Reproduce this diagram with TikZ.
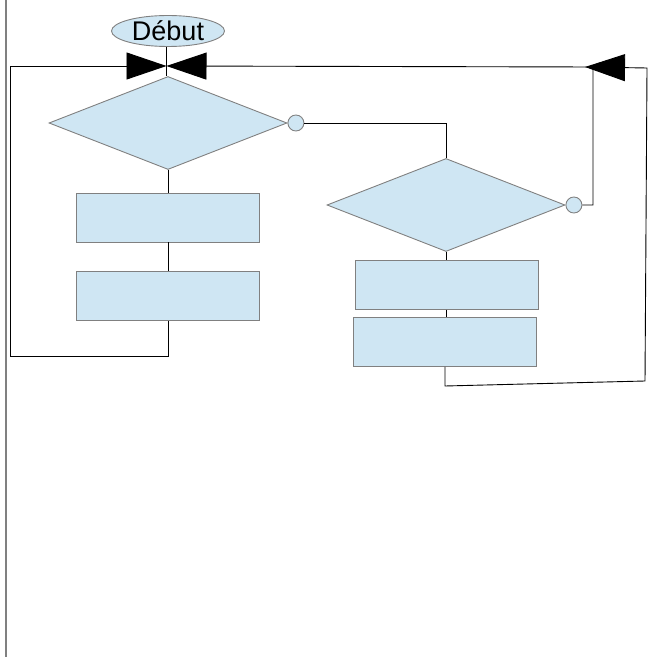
\documentclass[tikz,border=0pt]{standalone}
\usepackage{fontspec}
\setmainfont{Liberation Sans}
\usetikzlibrary{arrows.meta,shapes.geometric,positioning}

\definecolor{fondbleu}{RGB}{207,230,243}
\definecolor{bordgris}{RGB}{128,128,128}

\begin{document}
\begin{tikzpicture}[x=1pt,y=-1pt,
        boite/.style={draw=bordgris,fill=fondbleu,line width=0.9pt,minimum width=183pt,minimum height=49pt,inner sep=0pt},
        losange/.style={diamond,draw=bordgris,fill=fondbleu,line width=0.9pt,minimum width=238pt,minimum height=93pt,inner sep=0pt},
        rond/.style={circle,draw=bordgris,fill=fondbleu,line width=0.9pt,minimum size=16pt,inner sep=0pt},
        lien/.style={draw=black,line width=0.9pt},
        fleche/.style={-{Triangle[length=40pt,width=27pt]}}]

        \useasboundingbox (0,0) rectangle (652,660);

        % marge gauche
        \draw[bordgris,line width=2pt] (6,0) -- (6,657);

        \node[ellipse,draw=bordgris,fill=fondbleu,line width=0.9pt,minimum width=113pt,minimum height=31pt,inner sep=0pt,
              font=\fontsize{27}{32}\selectfont] (debut) at (168,31) {Début};
        \coordinate (jonction) at (166.5,66);
        \coordinate (retour) at (585,67);

        \node[losange] (los1) at (168,123) {};
        \node[rond,right=0pt of los1.east] (rond1) {};
        \node[boite] (b1) at (168,217.5) {};
        \node[boite] (b2) at (168,296) {};

        \node[losange] (los2) at (446,205) {};
        \node[rond,right=0pt of los2.east] (rond2) {};
        \node[boite] (b3) at (447,285) {};
        \node[boite] (b4) at (445,342) {};

        \draw[lien] (jonction |- debut.south) -- (jonction) -- (jonction |- los1.north);
        \draw[lien] (los1.south) -- (b1.north);
        \draw[lien] (b1.south) -- (b2.north);
        \draw[lien] (rond1.east) -- (rond1.east -| los2.north) -- (los2.north);
        \draw[lien] (los2.south) -- (los2.south |- b3.north);
        \draw[lien] (los2.south |- b3.south) -- (los2.south |- b4.north);

        % boucles
        \draw[lien,fleche] (b2.south) -- (b2.south |- 0,356) -- (10,356) -- (10,66) -- (jonction);
        \draw[lien,fleche] (rond2.east) -- (593,205) -- (593,67) -- (jonction);
        \draw[lien,fleche] (b4.south) -- (445,386) -- (645,381) -- (647,68) -- (retour);
\end{tikzpicture}
\end{document}
